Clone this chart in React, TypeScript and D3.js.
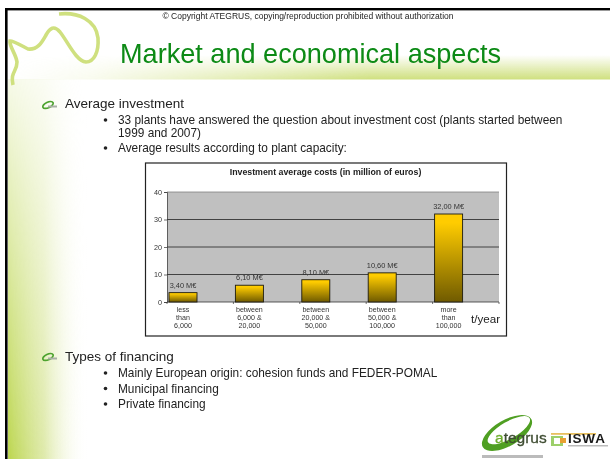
import React, { useEffect, useRef } from "react";
import * as d3 from "d3";

const categories: string[][] = [
  ["less", "than", "6,000"],
  ["between", "6,000 &", "20,000"],
  ["between", "20,000 &", "50,000"],
  ["between", "50,000 &", "100,000"],
  ["more", "than", "100,000"],
];
const costs = [3.4, 6.1, 8.1, 10.6, 32];
const costLabels = ["3,40 M€", "6,10 M€", "8,10 M€", "10,60 M€", "32,00 M€"];
const yTicks = [0, 10, 20, 30, 40];

const firstBlock = [
  "33 plants have answered the question about investment cost (plants started between",
  "1999 and 2007)",
];
const secondBullet = "Average results according to plant capacity:";
const financing = [
  "Mainly European origin: cohesion funds and FEDER-POMAL",
  "Municipal financing",
  "Private financing",
];

const FONT = "'Liberation Sans', Arial, sans-serif";
const BODY_SIZE = 11.85;

const Swirl = ({ x, y }: { x: number; y: number }) => (
  <g transform={`translate(${x},${y})`}>
    <ellipse cx="6" cy="0" rx="5.6" ry="2.8" fill="none" stroke="#4da32f" strokeWidth="1.7" transform="rotate(-25 6 0)" />
    <rect x="6" y="0.5" width="9" height="2" fill="#a9b0a5" />
  </g>
);

const Bullet = ({ y }: { y: number }) => <circle cx="105.5" cy={y - 4} r="1.8" fill="#222" />;

const App = () => {
  const chartRef = useRef<SVGGElement>(null);

  const left = 167;
  const right = 499;
  const top = 192;
  const bottom = 302;

  const x = d3.scaleBand<number>().domain(d3.range(categories.length)).range([left, right]);
  const y = d3.scaleLinear().domain([0, 40]).range([bottom, top]);
  const barWidth = 28;
  const barX = (i: number) => (x(i) as number) + 2;

  useEffect(() => {
    const g = d3.select(chartRef.current);
    g.selectAll("*").remove();

    // horizontal grid lines
    g.selectAll("line.grid")
      .data(yTicks.slice(1))
      .enter()
      .append("line")
      .attr("class", "grid")
      .attr("x1", left)
      .attr("x2", right)
      .attr("y1", (d) => y(d))
      .attr("y2", (d) => y(d))
      .attr("stroke", d => (d === 40 ? "#808080" : "#222"))
      .attr("stroke-width", 0.8);

    const yAxis = g.append("g")
      .attr("transform", `translate(${left},0)`)
      .call(d3.axisLeft(y).tickValues(yTicks).tickSize(3).tickPadding(2));
    yAxis.select(".domain").attr("stroke", "#333").attr("stroke-width", 0.7);
    yAxis.selectAll("line").attr("stroke", "#333").attr("stroke-width", 0.7);
    yAxis.selectAll("text")
      .attr("font-family", FONT)
      .attr("font-size", 7.2)
      .attr("fill", "#333");

    // baseline with ticks at band edges
    const edges = [...categories.map((_, i) => x(i) as number), right];
    g.append("line")
      .attr("x1", left).attr("x2", right)
      .attr("y1", bottom).attr("y2", bottom)
      .attr("stroke", "#333").attr("stroke-width", 0.8);
    g.selectAll("line.edge")
      .data(edges)
      .enter()
      .append("line")
      .attr("class", "edge")
      .attr("x1", (d) => d).attr("x2", (d) => d)
      .attr("y1", bottom).attr("y2", bottom + 2)
      .attr("stroke", "#333").attr("stroke-width", 0.7);

    g.selectAll("rect.bar")
      .data(costs)
      .enter()
      .append("rect")
      .attr("class", "bar")
      .attr("x", (_, i) => barX(i))
      .attr("y", (d) => y(d))
      .attr("width", barWidth)
      .attr("height", (d) => bottom - y(d))
      .attr("fill", "url(#barFill)")
      .attr("stroke", "#1c1a10")
      .attr("stroke-width", 0.9);

    g.selectAll("text.val")
      .data(costs)
      .enter()
      .append("text")
      .attr("class", "val")
      .attr("x", (_, i) => barX(i) + barWidth / 2)
      .attr("y", (d) => y(d) - 5)
      .attr("text-anchor", "middle")
      .attr("font-family", FONT)
      .attr("font-size", 7.4)
      .attr("fill", "#333")
      .text((_, i) => costLabels[i]);

    categories.forEach((lines, i) => {
      lines.forEach((line, j) => {
        g.append("text")
          .attr("x", barX(i) + barWidth / 2)
          .attr("y", 312 + j * 8)
          .attr("text-anchor", "middle")
          .attr("font-family", FONT)
          .attr("font-size", 7.1)
          .attr("fill", "#333")
          .text(line);
      });
    });
  }, []);

  return (
    <svg width={610} height={459} style={{ position: "absolute", left: 0, top: 0 }}>
      <defs>
        <linearGradient id="barFill" x1="0" y1="0" x2="0" y2="1">
          <stop offset="0.1" stopColor="#ffcc00" />
          <stop offset="1" stopColor="#6f5a00" />
        </linearGradient>
        <linearGradient id="sideFill" x1="0" y1="0" x2="1" y2="0">
          <stop offset="0" stopColor="#bcd64f" />
          <stop offset="0.45" stopColor="#d4e38f" stopOpacity="0.75" />
          <stop offset="1" stopColor="#ffffff" stopOpacity="0" />
        </linearGradient>
        <linearGradient id="sideFade" x1="0" y1="0" x2="0" y2="1">
          <stop offset="0" stopColor="#222" />
          <stop offset="0.3" stopColor="#666" />
          <stop offset="0.6" stopColor="#aaa" />
          <stop offset="1" stopColor="#fff" />
        </linearGradient>
        <mask id="sideMask" maskUnits="userSpaceOnUse" x="0" y="79" width="100" height="380">
          <rect x="0" y="79" width="100" height="380" fill="url(#sideFade)" />
        </mask>
        <linearGradient id="bandFill" x1="0" y1="0" x2="0" y2="1">
          <stop offset="0" stopColor="#cfe07f" stopOpacity="0" />
          <stop offset="1" stopColor="#cfe07f" />
        </linearGradient>
        <linearGradient id="bandFade" x1="0" y1="0" x2="1" y2="0">
          <stop offset="0" stopColor="#000" />
          <stop offset="0.14" stopColor="#222" />
          <stop offset="0.6" stopColor="#fff" />
        </linearGradient>
        <mask id="bandMask" maskUnits="userSpaceOnUse" x="8" y="55" width="602" height="25">
          <rect x="8" y="55" width="602" height="25" fill="url(#bandFade)" />
        </mask>
        <filter id="soft" x="0" y="0" width="100%" height="100%">
          <feGaussianBlur stdDeviation="0.35" />
        </filter>
      </defs>

      <g filter="url(#soft)">
        <rect width={610} height={459} fill="#fff" />
        <rect x="8" y="79" width="80" height="380" fill="url(#sideFill)" mask="url(#sideMask)" />
        <rect x="8" y="55" width="602" height="24.5" fill="url(#bandFill)" mask="url(#bandMask)" />

        {/* slide frame */}
        <rect x="5" y="8" width="605" height="2.4" fill="#000" />
        <rect x="5" y="8" width="2.6" height="451" fill="#000" />

        {/* squiggle */}
        <path
          d="M59 14 C78 12 96 20 98 38 C99 52 94 62 86 62 C76 61 68 42 60 32 C54 25 50 28 46 35 C42 42 38 50 28 49 C22 46 14 41 10 41 C9 46 16 54 17 62 C17 72 10 72 13 85"
          fill="none" stroke="#cfe07f" strokeWidth="3.6"
        />

        <text x="308" y="19" textAnchor="middle" fontFamily={FONT} fontSize="8.5" fill="#222">
          © Copyright ATEGRUS, copying/reproduction prohibited without authorization
        </text>
        <text x="120" y="62.5" fontFamily={FONT} fontSize="27.1" fill="#0b8a14">Market and economical aspects</text>

        <Swirl x={42} y={105} />
        <text x="65" y="108" fontFamily={FONT} fontSize="13.5" fill="#222">Average investment</text>
        <Bullet y={124} />
        <text x="118" y="124" fontFamily={FONT} fontSize={BODY_SIZE} fill="#222">{firstBlock[0]}</text>
        <text x="118" y="137" fontFamily={FONT} fontSize={BODY_SIZE} fill="#222">{firstBlock[1]}</text>
        <Bullet y={152} />
        <text x="118" y="152" fontFamily={FONT} fontSize={BODY_SIZE} fill="#222">{secondBullet}</text>

        {/* chart frame */}
        <rect x="145.5" y="163" width="361" height="173" fill="#fff" stroke="#222" strokeWidth="1.2" />
        <rect x={left} y={top} width={right - left} height={bottom - top} fill="#c0c0c0" />
        <text x="325.5" y="175" textAnchor="middle" fontFamily={FONT} fontSize="8.8" fontWeight="bold" fill="#222">
          Investment average costs (in million of euros)
        </text>
        <g ref={chartRef} />
        <text x="471" y="323" fontFamily={FONT} fontSize="11.6" fill="#222">t/year</text>

        <Swirl x={42} y={357} />
        <text x="65" y="361" fontFamily={FONT} fontSize="13.5" fill="#222">Types of financing</text>
        {financing.map((t, i) => (
          <g key={t}>
            <Bullet y={377 + i * 15.5} />
            <text x="118" y={377 + i * 15.5} fontFamily={FONT} fontSize={BODY_SIZE} fill="#222">{t}</text>
          </g>
        ))}

        {/* logos */}
        <g transform="rotate(-30 507 433)">
          <ellipse cx="507" cy="433" rx="28" ry="13" fill="#4f9f22" />
          <ellipse cx="510" cy="431.5" rx="24" ry="8.5" fill="#fff" />
        </g>
        <text x="495" y="443" fontFamily={FONT} fontSize="15.5" fill="#3f4d32" stroke="#3f4d32" strokeWidth="0.3">
          <tspan fill="#6fae2e" stroke="#6fae2e">a</tspan>tegrus
        </text>
        <rect x="551" y="433" width="45" height="1.8" fill="#e8c060" />
        <rect x="551" y="436" width="12" height="10" fill="#9ccf6a" />
        <rect x="554" y="438" width="6" height="6" fill="#fff" />
        <rect x="560" y="438" width="6" height="5" fill="#e8a030" />
        <text x="568" y="443" fontFamily={FONT} fontSize="13.5" fontWeight="bold" letterSpacing="0.8" fill="#1a1a1a">ISWA</text>
        <rect x="568" y="445" width="40" height="1.5" fill="#bbb" />
        <rect x="482" y="455" width="61" height="3" fill="#bbb" />
      </g>
    </svg>
  );
};

export default App;
